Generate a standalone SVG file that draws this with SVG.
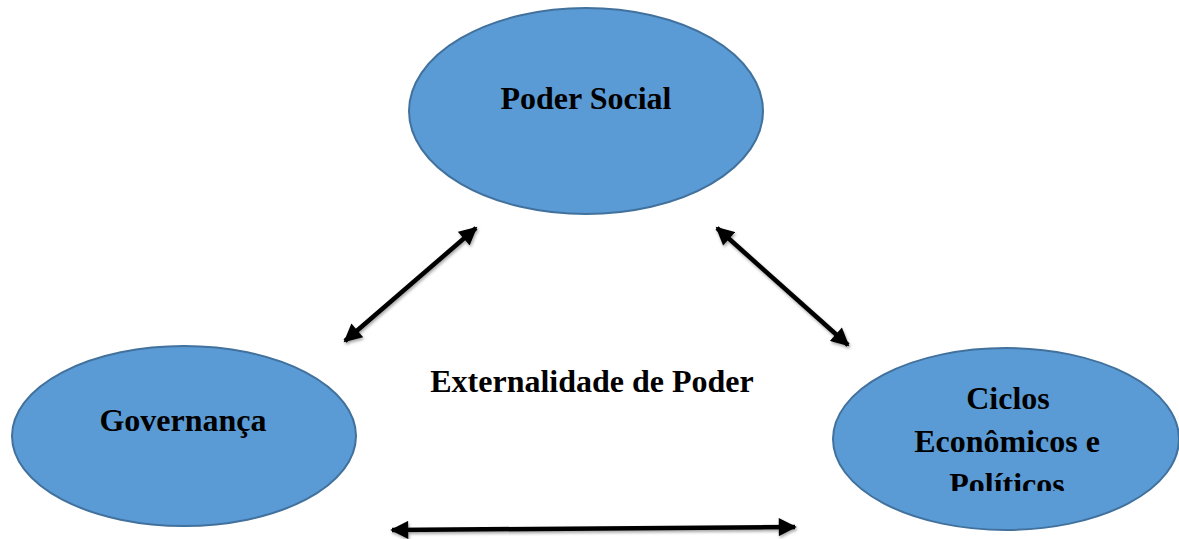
<svg xmlns="http://www.w3.org/2000/svg" width="1179" height="539" viewBox="0 0 1179 539">
<style>
.node{fill:#5B9BD5;stroke:#41719C;stroke-width:2}
.lbl{font-family:"Liberation Serif","Times New Roman",serif;font-weight:bold;font-size:32px;fill:#000;text-anchor:middle}
.conn{stroke:#000;stroke-width:4.5;fill:none;marker-start:url(#ah);marker-end:url(#ah)}
</style>
<defs>
<marker id="ah" viewBox="0 0 10 10" refX="9" refY="5" markerWidth="4.2" markerHeight="4" orient="auto-start-reverse" markerUnits="strokeWidth">
<path d="M0,0 L10,5 L0,10 z" fill="#000"/>
</marker>
<filter id="sh" x="-10%" y="-10%" width="120%" height="130%">
<feDropShadow dx="1" dy="2" stdDeviation="1.5" flood-color="#000" flood-opacity="0.35"/>
</filter>
<clipPath id="clipC"><rect x="833" y="340" width="346" height="151"/></clipPath>
</defs>
<rect width="1179" height="539" fill="#fff"/>
<g id="connectors" filter="url(#sh)">
<line class="conn" x1="345" y1="341" x2="476" y2="228"/>
<line class="conn" x1="717" y1="228" x2="848" y2="345"/>
<line class="conn" x1="392" y1="530" x2="795" y2="527"/>
</g>
<g id="poder-social">
<ellipse class="node" cx="586" cy="111" rx="177" ry="103"/>
<text class="lbl" x="586" y="109">Poder Social</text>
</g>
<g id="governanca">
<ellipse class="node" cx="184" cy="436" rx="172" ry="90"/>
<text class="lbl" x="183" y="431">Governança</text>
</g>
<g id="ciclos">
<ellipse class="node" cx="1006" cy="439" rx="173" ry="91"/>
<g clip-path="url(#clipC)">
<text class="lbl" x="1008" y="409">Ciclos</text>
<text class="lbl" x="1007" y="452">Econômicos e</text>
<text class="lbl" x="1007" y="495">Políticos</text>
</g>
</g>
<g id="externalidade">
<text class="lbl" x="592" y="392">Externalidade de Poder</text>
</g>
</svg>
